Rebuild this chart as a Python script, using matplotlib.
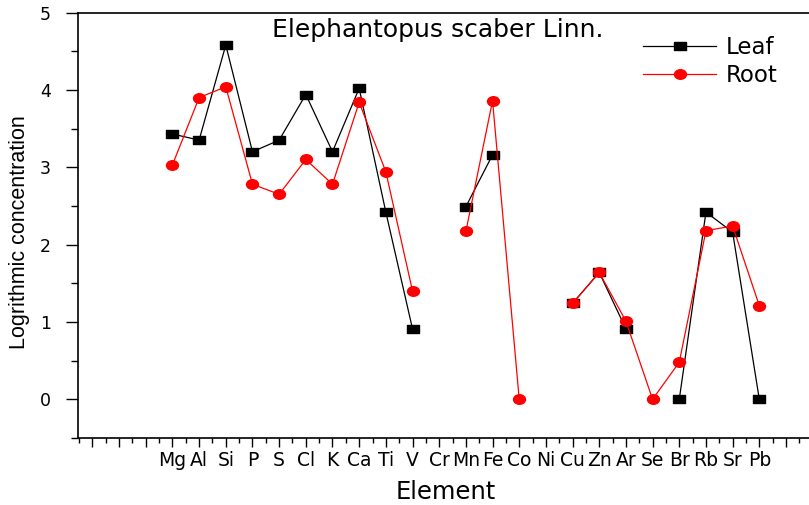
import numpy as np
import matplotlib
matplotlib.use("Agg")
import matplotlib.pyplot as plt
from matplotlib.path import Path
from matplotlib.transforms import Affine2D
from matplotlib.ticker import FixedLocator, MultipleLocator

# ---------------- data ----------------
elements = ["Mg", "Al", "Si", "P", "S", "Cl", "K", "Ca", "Ti", "V", "Cr", "Mn",
            "Fe", "Co", "Ni", "Cu", "Zn", "Ar", "Se", "Br", "Rb", "Sr", "Pb"]
nan = np.nan
leaf = [3.43, 3.35, 4.58, 3.20, 3.35, 3.94, 3.20, 4.02, 2.42, 0.91, nan, 2.49,
        3.16, nan, nan, 1.24, 1.64, 0.91, nan, 0.00, 2.42, 2.16, 0.00]
root = [3.03, 3.90, 4.04, 2.78, 2.65, 3.10, 2.78, 3.84, 2.94, 1.40, nan, 2.17,
        3.86, 0.00, nan, 1.24, 1.64, 1.01, 0.00, 0.48, 2.18, 2.24, 1.21]
first_slot = 4          # elements start at the 4th tick slot
n_slots = 28
title = "Elephantopus scaber Linn."
xlabel = "Element"
ylabel = "Logrithmic concentration"
series_names = ["Leaf", "Root"]

# ---------------- figure ----------------
W, H = 809, 505
fig = plt.figure(figsize=(W / 100, H / 100), dpi=100)
ax = fig.add_axes([78 / W, 67 / H, 748 / W, 425.5 / H])

pos = np.arange(first_slot, first_slot + len(elements))

rect = Path([(-1.4, -1), (1.4, -1), (1.4, 1), (-1.4, 1), (-1.4, -1)],
            [Path.MOVETO, Path.LINETO, Path.LINETO, Path.LINETO, Path.CLOSEPOLY])
ell = Path.unit_circle().transformed(Affine2D().scale(1.25, 1.0))

ax.plot(pos, leaf, color="black", lw=0.9, marker=rect, markersize=8.2,
        markerfacecolor="black", markeredgecolor="black", label=series_names[0],
        zorder=3)
ax.plot(pos, root, color="red", lw=0.9, marker=ell, markersize=8.6,
        markerfacecolor="red", markeredgecolor="red", label=series_names[1],
        zorder=4)

ax.set_xlim(0.46, 28.5)
ax.set_ylim(-0.5, 5)

# x ticks
all_slots = np.arange(1, n_slots + 1)
labels = [""] * n_slots
for p, e in zip(pos, elements):
    labels[p - 1] = e
ax.xaxis.set_major_locator(FixedLocator(all_slots))
ax.set_xticklabels(labels)
ax.xaxis.set_minor_locator(MultipleLocator(0.5))
ax.tick_params(axis="x", which="major", direction="out", length=6.5, width=1,
               pad=3, labelsize=13.5)
ax.tick_params(axis="x", which="minor", direction="out", length=3.6, width=1)

# y ticks
ax.yaxis.set_major_locator(MultipleLocator(1))
ax.yaxis.set_minor_locator(MultipleLocator(0.5))
ax.tick_params(axis="y", which="major", direction="out", length=8.6, width=1,
               pad=11, labelsize=12.5)
ax.tick_params(axis="y", which="minor", direction="out", length=5, width=1)

for lab in ax.get_xticklabels() + ax.get_yticklabels():
    lab.set_family("DejaVu Sans")

for s in ["left", "bottom", "top", "right"]:
    ax.spines[s].set_linewidth(1.2)

fig.text(438 / W, 1 - 37 / H, title, ha="center", va="baseline",
         fontsize=18, family="DejaVu Sans")
fig.text(446 / W, 1 - 492 / H, xlabel, ha="center", va="center",
         fontsize=17.5, family="DejaVu Sans")
fig.text(20 / W, 1 - 232 / H, ylabel, ha="center", va="center",
         rotation=90, fontsize=15.5, family="Liberation Sans")

leg = fig.legend(loc="upper left", bbox_to_anchor=(643 / W, 1 - 36 / H),
                 frameon=False, borderpad=0, borderaxespad=0,
                 handlelength=3.2, handletextpad=0.4, labelspacing=0.2,
                 prop={"family": "DejaVu Sans", "size": 16.5})

fig.savefig("out.png", dpi=100)
